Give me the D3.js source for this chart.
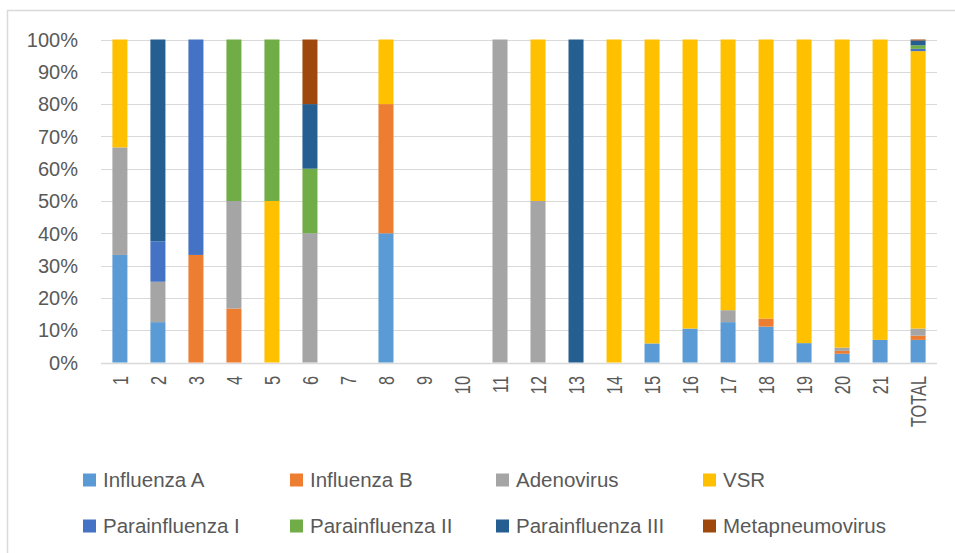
<!DOCTYPE html>
<html>
<head>
<meta charset="utf-8">
<script src="https://cdn.jsdelivr.net/npm/d3@7"></script>
<style>
  html, body { margin: 0; padding: 0; background: #fff; }
  svg { display: block; }
  text { font-family: "Liberation Sans", Arial, sans-serif; fill: #595959; }
</style>
</head>
<body>
<svg id="chart" width="955" height="553"></svg>
<script>
const categories = ["1","2","3","4","5","6","7","8","9","10","11","12","13","14","15","16","17","18","19","20","21","TOTAL"];
const seriesNames = ["Influenza A","Influenza B","Adenovirus","VSR","Parainfluenza I","Parainfluenza II","Parainfluenza III","Metapneumovirus"];
const seriesColors = ["#5b9bd5","#ed7d31","#a5a5a5","#ffc000","#4472c4","#70ad47","#255e91","#9e480e"];
const influenzaA      = [33.3,12.5,0,0,0,0,0,40,0,0,0,0,0,0,5.9,10.5,12.5,11.1,6.0,2.7,7.0,7.0];
const influenzaB      = [0,0,33.3,16.7,0,0,0,40,0,0,0,0,0,0,0,0,0,2.5,0,0.9,0,1.3];
const adenovirus      = [33.3,12.5,0,33.3,0,40,0,0,0,0,100,50,0,0,0,0,3.7,0,0,1.0,0,2.2];
const vsr             = [33.4,0,0,0,50,0,0,20,0,0,0,50,0,100,94.1,89.5,83.8,86.4,94.0,95.4,93.0,85.9];
const parainfluenzaI  = [0,12.5,66.7,0,0,0,0,0,0,0,0,0,0,0,0,0,0,0,0,0,0,0.7];
const parainfluenzaII = [0,0,0,50,50,20,0,0,0,0,0,0,0,0,0,0,0,0,0,0,0,1.1];
const parainfluenzaIII= [0,62.5,0,0,0,20,0,0,0,0,0,0,100,0,0,0,0,0,0,0,0,1.5];
const metapneumovirus = [0,0,0,0,0,20,0,0,0,0,0,0,0,0,0,0,0,0,0,0,0,0.3];
const yTicks = [0,10,20,30,40,50,60,70,80,90,100];

const seriesValues = [influenzaA, influenzaB, adenovirus, vsr, parainfluenzaI, parainfluenzaII, parainfluenzaIII, metapneumovirus];

const rows = categories.map((c, i) => {
  const r = { cat: c };
  seriesNames.forEach((s, j) => r[s] = seriesValues[j][i]);
  return r;
});

const svg = d3.select("#chart");

// outer chart border
svg.append("rect").attr("x", 7.5).attr("y", 10.5).attr("width", 1000).attr("height", 600)
  .attr("fill", "none").attr("stroke", "#d9d9d9").attr("stroke-width", 1.5);

const x = d3.scaleBand().domain(categories).range([101, 937]).paddingInner(0.605).paddingOuter(0.3);
const y = d3.scaleLinear().domain([0, 100]).range([362.5, 39.5]);

// gridlines
svg.append("g").selectAll("line").data(yTicks).join("line")
  .attr("x1", 101).attr("x2", 937)
  .attr("y1", d => Math.round(y(d)) + 0.5).attr("y2", d => Math.round(y(d)) + 0.5)
  .attr("stroke", "#d9d9d9").attr("stroke-width", d => d === 0 ? 1.5 : 1);

// y labels
svg.append("g").selectAll("text").data(yTicks).join("text")
  .attr("x", 78).attr("y", d => y(d)).attr("dy", "0.36em")
  .attr("text-anchor", "end").style("font-size", "20px")
  .text(d => d + "%");

// stacks
const stack = d3.stack().keys(seriesNames);
const stacked = stack(rows);
const color = d3.scaleOrdinal().domain(seriesNames).range(seriesColors);

svg.append("g").selectAll("g").data(stacked).join("g")
  .attr("fill", d => color(d.key))
  .selectAll("rect").data(d => d).join("rect")
  .attr("x", d => x(d.data.cat))
  .attr("width", x.bandwidth())
  .attr("y", d => y(d[1]))
  .attr("height", d => Math.max(0, y(d[0]) - y(d[1])));

// x labels (rotated)
svg.append("g").selectAll("text").data(categories).join("text")
  .attr("transform", d => `translate(${x(d) + x.bandwidth() / 2},376) rotate(-90) scale(0.76,1)`)
  .attr("text-anchor", "end").attr("dy", "0.36em")
  .style("font-size", "21.5px")
  .text(d => d);

// legend
const legendCols = [83, 290, 496, 703];
const legendRows = [480, 526];
const lg = svg.append("g").selectAll("g").data(seriesNames).join("g")
  .attr("transform", (d, i) => `translate(${legendCols[i % 4]},${legendRows[Math.floor(i / 4)]})`);
lg.append("rect").attr("x", 0).attr("y", -6.5).attr("width", 13).attr("height", 13)
  .attr("fill", d => color(d));
lg.append("text").attr("x", 20).attr("y", 0).attr("dy", "0.36em")
  .style("font-size", "20.5px").text(d => d);
</script>
</body>
</html>
